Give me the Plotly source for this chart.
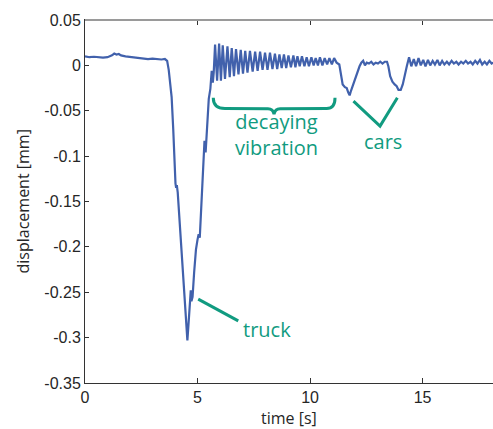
import plotly.graph_objects as go

# ---------------- data ----------------
t_base = [0.0, 0.2, 0.4, 0.6, 0.8, 1.0, 1.2, 1.3, 1.4, 1.5, 1.6, 1.8, 2.0, 2.2, 2.4,
          2.6, 2.8, 3.0, 3.2, 3.4, 3.55, 3.65]
v_base = [0.010, 0.009, 0.0095, 0.009, 0.0085, 0.009, 0.011, 0.013, 0.012, 0.0125, 0.011,
          0.010, 0.0095, 0.009, 0.008, 0.0075, 0.007, 0.0075, 0.007, 0.0065, 0.007, 0.005]

t_truck = [3.72, 3.78, 3.85, 3.92, 3.97, 4.02, 4.05, 4.08, 4.12, 4.2, 4.3, 4.38, 4.45,
           4.5, 4.55, 4.6, 4.65, 4.7, 4.73, 4.78, 4.85, 4.93, 5.0, 5.05, 5.1, 5.15,
           5.2, 5.27, 5.31, 5.36, 5.42, 5.5, 5.57, 5.63, 5.68, 5.72]
v_truck = [-0.005, -0.022, -0.035, -0.07, -0.11, -0.13, -0.135, -0.132, -0.14, -0.17,
           -0.205, -0.235, -0.27, -0.29, -0.303, -0.285, -0.263, -0.248, -0.26, -0.255,
           -0.228, -0.203, -0.192, -0.186, -0.19, -0.16, -0.13, -0.09, -0.083, -0.096,
           -0.068, -0.037, -0.026, -0.006, -0.019, -0.008]

t_vib = [5.78, 5.87, 5.96, 6.04, 6.12, 6.22, 6.33, 6.43, 6.52, 6.62, 6.71, 6.82, 6.92,
         7.02, 7.12, 7.22, 7.33, 7.45, 7.56, 7.67, 7.78, 7.89, 8.00, 8.11, 8.22, 8.33,
         8.44, 8.54, 8.64, 8.74, 8.84, 8.94, 9.04, 9.15, 9.26, 9.35, 9.44, 9.54, 9.64,
         9.75, 9.85, 9.95, 10.06, 10.16, 10.25, 10.35, 10.44, 10.55, 10.65, 10.76,
         10.86, 10.97, 11.07]
v_vib = [0.023, -0.017, 0.024, -0.017, 0.022, -0.015, 0.021, -0.013, 0.019, -0.012,
         0.018, -0.010, 0.017, -0.009, 0.016, -0.008, 0.016, -0.007, 0.015, -0.006,
         0.015, -0.005, 0.014, -0.005, 0.014, -0.004, 0.013, -0.004, 0.012, -0.003,
         0.012, -0.003, 0.011, -0.002, 0.011, -0.002, 0.010, -0.001, 0.010, -0.001,
         0.009, -0.001, 0.009, 0.000, 0.008, 0.000, 0.009, 0.000, 0.008, 0.001,
         0.008, 0.001, 0.008]

t_cars = [11.18, 11.30, 11.38, 11.45, 11.55, 11.63, 11.70, 11.76, 11.82, 11.90, 12.00,
          12.10, 12.20, 12.28, 12.36, 12.44, 12.52, 12.62, 12.72, 12.82, 12.92, 13.02,
          13.12, 13.22, 13.32, 13.42, 13.48, 13.56, 13.66, 13.76, 13.85, 13.93, 14.03,
          14.12, 14.22, 14.30, 14.40]
v_cars = [0.003, 0.001, -0.010, -0.021, -0.024, -0.025, -0.030, -0.033, -0.028, -0.022,
          -0.015, -0.007, -0.001, 0.003, 0.005, 0.000, 0.003, 0.002, 0.004, 0.001, 0.003,
          0.002, 0.004, 0.002, 0.004, 0.004, -0.001, -0.012, -0.018, -0.021, -0.023,
          -0.027, -0.027, -0.021, -0.008, -0.001, 0.009]

t_tail = [14.50, 14.61, 14.71, 14.82, 14.92, 15.03, 15.13, 15.24, 15.34, 15.45, 15.55,
          15.66, 15.76, 15.87, 15.97, 16.08, 16.18, 16.29, 16.39, 16.50, 16.60, 16.71,
          16.81, 16.92, 17.02, 17.13, 17.23, 17.34, 17.44, 17.55, 17.65, 17.76, 17.86,
          17.97, 18.07, 18.15]
v_tail = [-0.001, 0.007, -0.001, 0.008, 0.000, 0.006, -0.001, 0.006, 0.000, 0.005,
          0.001, 0.006, 0.000, 0.005, 0.001, 0.004, 0.001, 0.005, 0.002, 0.004, 0.001,
          0.004, 0.002, 0.005, 0.002, 0.004, 0.001, 0.005, 0.002, 0.006, 0.001, 0.004,
          0.001, 0.005, 0.002, 0.003]

time_s = t_base + t_truck + t_vib + t_cars + t_tail
disp_mm = v_base + v_truck + v_vib + v_cars + v_tail

y_tickvals = [0.05, 0, -0.05, -0.1, -0.15, -0.2, -0.25, -0.3, -0.35]
y_ticktext = ["0.05", "0", "-0.05", "-0.1", "-0.15", "-0.2", "-0.25", "-0.3", "-0.35"]
x_tickvals = [0, 5, 10, 15]
x_ticktext = ["0", "5", "10", "15"]

# ---------------- figure ----------------
LINE = "#4161AC"
TEAL = "#119B80"
DARK = "#262626"

fig = go.Figure()
fig.add_trace(go.Scatter(x=time_s, y=disp_mm, mode="lines",
                         line=dict(color=LINE, width=2.2), hoverinfo="skip",
                         showlegend=False))

fig.update_layout(
    width=493, height=429,
    margin=dict(l=85, r=0, t=20, b=46, autoexpand=False),
    paper_bgcolor="white", plot_bgcolor="white",
    font=dict(family="Liberation Sans, Arial", size=16, color=DARK),
)
fig.update_xaxes(
    range=[0, 18.13], tickvals=x_tickvals, ticktext=x_ticktext, automargin=False,
    showgrid=False, zeroline=False, showline=True, linecolor="#333333", linewidth=1,
    mirror="ticks", ticks="inside", ticklen=5, tickcolor="#333333",
    tickfont=dict(family="Liberation Sans, Arial", size=16, color=DARK),
)
fig.update_yaxes(
    range=[-0.35, 0.05], tickvals=y_tickvals, ticktext=y_ticktext, automargin=False,
    showgrid=False, zeroline=False, showline=True, linecolor="#333333", linewidth=1,
    ticks="inside", ticklen=4, tickcolor="#333333",
    tickfont=dict(family="Liberation Sans, Arial", size=16, color=DARK),
)

# axis titles
title_font = dict(family="Open Sans", size=16, color=DARK)
fig.add_annotation(x=0.5, y=0, xref="paper", yref="paper", yshift=-35, text="time [s]",
                   showarrow=False, font=title_font, yanchor="middle")
fig.add_annotation(x=0, y=0.5, xref="paper", yref="paper", xshift=-63,
                   text="displacement [mm]", textangle=-90,
                   showarrow=False, font=title_font, xanchor="center")

# gray top border
fig.add_shape(type="line", xref="paper", yref="paper", x0=0, x1=1, y0=1, y1=1,
              line=dict(color="#9a9a9a", width=2), layer="above")

# annotation graphics (brace, pointer lines)
brace = ("M 5.70,-0.0356 Q 5.70,-0.0474 6.22,-0.0474 L 8.13,-0.0478 "
         "Q 8.36,-0.0478 8.40,-0.054 Q 8.44,-0.0478 8.67,-0.0478 "
         "L 10.74,-0.0474 Q 11.11,-0.0474 11.11,-0.0356")
fig.add_shape(type="path", xref="x", yref="y", path=brace,
              line=dict(color=TEAL, width=3))
fig.add_shape(type="line", xref="x", yref="y", x0=5.03, y0=-0.2575, x1=6.81, y1=-0.2815,
              line=dict(color=TEAL, width=3))
fig.add_shape(type="path", xref="x", yref="y",
              path="M 11.93,-0.0394 L 13.11,-0.0669 L 13.88,-0.0356",
              line=dict(color=TEAL, width=3))

ann_font = dict(family="Open Sans", size=20, color=TEAL)
fig.add_annotation(x=8.52, y=-0.0758, xref="x", yref="y", text="decaying<br>vibration",
                   showarrow=False, font=ann_font, align="center")
fig.add_annotation(x=13.24, y=-0.0834, xref="x", yref="y", text="cars",
                   showarrow=False, font=ann_font)
fig.add_annotation(x=8.09, y=-0.2910, xref="x", yref="y", text="truck",
                   showarrow=False, font=ann_font)

fig.write_html("out.html",
               config={"displayModeBar": False},
               post_script="document.body.style.margin='0px';"
                           "document.body.style.overflow='hidden';")
